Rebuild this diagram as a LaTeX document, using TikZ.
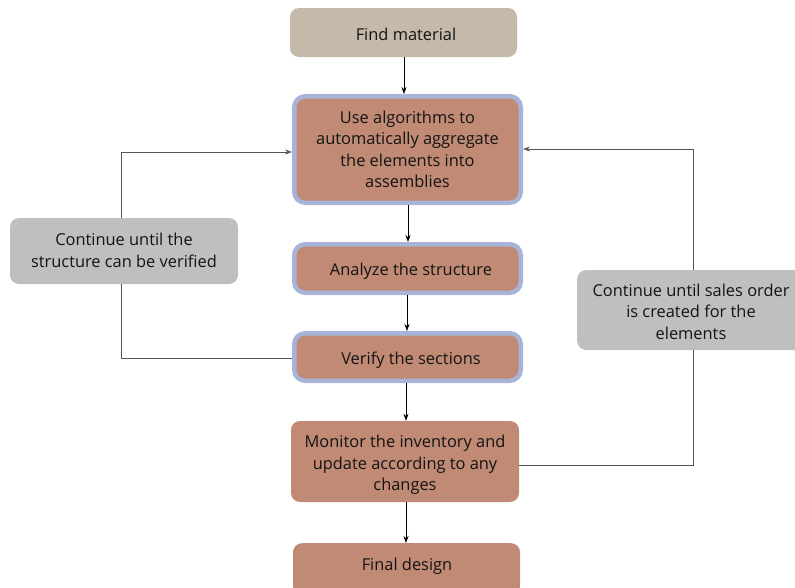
\documentclass[tikz,border=0pt]{standalone}
\usepackage{fontspec}
\setmainfont{Open Sans}
\usetikzlibrary{arrows.meta}
\definecolor{beigebox}{HTML}{C5BAAA}
\definecolor{brownbox}{HTML}{C08A74}
\definecolor{blueedge}{HTML}{A8B3D8}
\definecolor{greybox}{HTML}{BFBFBF}
\definecolor{inktext}{HTML}{141414}
\definecolor{loopline}{HTML}{555555}
\tikzset{
  every node/.style={font=\fontsize{16.4}{21.4}\selectfont, text=inktext, align=center, inner sep=0pt},
  basebox/.style={rounded corners=9pt, draw=none},
  startbox/.style={basebox, fill=beigebox},
  stepbox/.style={basebox, fill=brownbox},
  ringbox/.style={basebox, fill=brownbox, draw=blueedge, line width=4.5pt, rounded corners=11pt},
  notebox/.style={basebox, fill=greybox},
  flow/.style={draw=black, line width=0.6pt, -{Stealth[length=7pt,width=5pt]}},
  loop/.style={draw=loopline, line width=0.6pt},
}
\begin{document}
\begin{tikzpicture}[x=1pt,y=-1pt]
\useasboundingbox (0,0) rectangle (795,587);
\clip (0,0) rectangle (795,587);

% process boxes
\node[startbox, minimum width=227pt, minimum height=49pt] (find) at (403.5,32.5) {};
\node (findtext) at (406,34) {Find material};
\node[ringbox, minimum width=226.5pt, minimum height=106.5pt] (algo) at (407.5,149.5)
  {Use algorithms to\\automatically aggregate\\the elements into\\assemblies};
\node[ringbox, minimum width=226.5pt, minimum height=48.5pt] (analyze) at (407.5,268.5) {};
\node (analyzetext) at (411,271) {Analyze the structure};
\node[ringbox, minimum width=226.5pt, minimum height=47.5pt] (verify) at (407.5,357) {};
\node (verifytext) at (411,360) {Verify the sections};
\node[stepbox, minimum width=228pt, minimum height=81pt] (monitor) at (405,461.5) {};
\node (monitortext) at (405,465) {Monitor the inventory and\\update according to any\\changes};
\node[stepbox, minimum width=227pt, minimum height=52pt, anchor=north] (final) at (406.5,543) {};
\node (finaltext) at (407,566.5) {Final design};

% note boxes
\node[notebox, minimum width=228pt, minimum height=66pt] (noteL) at (124,251) {};
\node (noteLtext) at (124,250.5) {Continue until the\\structure can be verified};
\node[notebox, minimum width=230pt, minimum height=80pt, anchor=west] (noteR) at (577,310) {};
\node (noteRtext) at (691,311.5) {Continue until sales order\\is created for the\\elements};

% corner points of the feedback loops
\coordinate (lTop) at (121,152);
\coordinate (lBot) at (121,358);
\coordinate (rTop) at (693,149);
\coordinate (rBot) at (693,465);

% main flow
\draw[flow] (find.south -| 404,0) -- (404,94);
\draw[flow] (408,205) -- (analyze.north -| 408,0);
\draw[flow] (407,295) -- (verify.north -| 407,0);
\draw[flow] (406,383) -- (monitor.north -| 406,0);
\draw[flow] (406,502) -- (final.north -| 406,0);

% feedback loops, broken where they pass behind the note boxes
\draw[loop] (verify.west |- lBot) -- (lBot) -- (noteL.south -| lBot);
\draw[loop] (noteL.north -| lTop) -- (lTop);
\draw[flow, draw=loopline] (lTop) -- (292,152);
\draw[loop] (monitor.east |- rBot) -- (rBot) -- (noteR.south -| rBot);
\draw[loop] (noteR.north -| rTop) -- (rTop);
\draw[flow, draw=loopline] (rTop) -- (523,149);
\end{tikzpicture}
\end{document}
